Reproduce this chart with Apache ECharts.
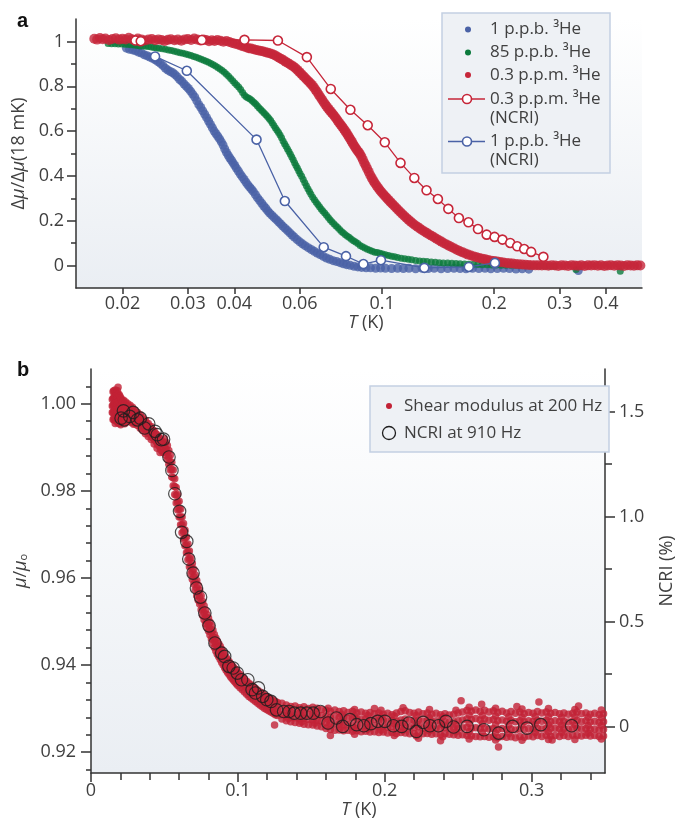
<!DOCTYPE html>
<html><head><meta charset="utf-8">
<script src="https://cdn.jsdelivr.net/npm/echarts@6/dist/echarts.min.js"></script>
<style>html,body{margin:0;padding:0;background:#fff}#c{width:684px;height:821px}</style>
</head><body><div id="c"></div>
<script>
// ---------- Panel a data: [T (K), Δμ/Δμ(18 mK)] ----------
const aBlue = [[0.0205,0.970],[0.0209,0.965],[0.0213,0.962],[0.0217,0.958],[0.0221,0.952],[0.0225,0.948],[0.0229,0.940],[0.0233,0.936],[0.0237,0.930],[0.0241,0.925],[0.0245,0.918],[0.0249,0.910],[0.0253,0.902],[0.0257,0.892],[0.0261,0.880],[0.0265,0.872],[0.0269,0.866],[0.0273,0.860],[0.0277,0.852],[0.0281,0.842],[0.0285,0.830],[0.0289,0.822],[0.0293,0.810],[0.0297,0.800],[0.0301,0.790],[0.0305,0.778],[0.0309,0.765],[0.0313,0.752],[0.0317,0.735],[0.0321,0.718],[0.0325,0.705],[0.0329,0.690],[0.0333,0.675],[0.0337,0.660],[0.0341,0.645],[0.0345,0.630],[0.0349,0.615],[0.0353,0.600],[0.0357,0.588],[0.0361,0.577],[0.0365,0.565],[0.0369,0.552],[0.0373,0.538],[0.0377,0.520],[0.0381,0.505],[0.0385,0.492],[0.0389,0.480],[0.0393,0.470],[0.0397,0.458],[0.0401,0.447],[0.0405,0.435],[0.0410,0.422],[0.0415,0.408],[0.0420,0.396],[0.0425,0.384],[0.0430,0.372],[0.0435,0.360],[0.0440,0.350],[0.0445,0.340],[0.0450,0.330],[0.0456,0.316],[0.0462,0.302],[0.0468,0.290],[0.0474,0.278],[0.0480,0.266],[0.0486,0.256],[0.0492,0.244],[0.0498,0.234],[0.0505,0.224],[0.0512,0.214],[0.0519,0.205],[0.0526,0.195],[0.0533,0.186],[0.0540,0.176],[0.0548,0.166],[0.0556,0.156],[0.0564,0.146],[0.0572,0.136],[0.0580,0.127],[0.0590,0.116],[0.0600,0.106],[0.0610,0.097],[0.0620,0.089],[0.0632,0.080],[0.0644,0.072],[0.0656,0.064],[0.0668,0.056],[0.0680,0.049],[0.0694,0.041],[0.0708,0.034],[0.0722,0.028],[0.0738,0.022],[0.0754,0.018],[0.0770,0.013],[0.0786,0.008],[0.0802,0.004],[0.0820,0.001],[0.0840,-0.003],[0.0860,-0.006],[0.0880,-0.008],[0.0905,-0.010],[0.0930,-0.010],[0.0960,-0.012],[0.099,-0.011],[0.102,-0.012],[0.106,-0.013],[0.110,-0.012],[0.114,-0.013],[0.118,-0.012],[0.123,-0.014],[0.128,-0.012],[0.133,-0.013],[0.138,-0.012],[0.144,-0.014],[0.150,-0.013],[0.156,-0.012],[0.162,-0.013],[0.168,-0.014],[0.175,-0.012],[0.182,-0.013],[0.189,-0.012],[0.196,-0.014],[0.204,-0.013],[0.212,-0.012],[0.220,-0.013],[0.229,-0.015],[0.238,-0.014],[0.248,-0.016],[0.337,-0.022]];

const aGreen = [[0.0183,0.991],[0.0187,0.990],[0.0191,0.990],[0.0195,0.988],[0.0199,0.988],[0.0203,0.987],[0.0207,0.986],[0.0211,0.985],[0.0215,0.984],[0.0219,0.982],[0.0223,0.980],[0.0227,0.979],[0.0231,0.978],[0.0235,0.977],[0.0239,0.975],[0.0243,0.973],[0.0247,0.971],[0.0251,0.969],[0.0256,0.967],[0.0261,0.965],[0.0266,0.962],[0.0271,0.959],[0.0276,0.956],[0.0281,0.953],[0.0286,0.950],[0.0291,0.947],[0.0296,0.944],[0.0301,0.940],[0.0306,0.937],[0.0311,0.933],[0.0316,0.929],[0.0321,0.925],[0.0326,0.920],[0.0331,0.916],[0.0336,0.912],[0.0341,0.907],[0.0346,0.901],[0.0351,0.896],[0.0356,0.890],[0.0361,0.884],[0.0366,0.877],[0.0371,0.870],[0.0376,0.862],[0.0381,0.854],[0.0386,0.845],[0.0391,0.835],[0.0396,0.825],[0.0401,0.815],[0.0406,0.806],[0.0411,0.797],[0.0416,0.786],[0.0421,0.772],[0.0426,0.760],[0.0431,0.752],[0.0436,0.748],[0.0441,0.743],[0.0446,0.736],[0.0451,0.729],[0.0456,0.722],[0.0461,0.713],[0.0466,0.704],[0.0471,0.696],[0.0476,0.689],[0.0481,0.681],[0.0486,0.673],[0.0491,0.665],[0.0496,0.656],[0.0501,0.647],[0.0506,0.636],[0.0511,0.625],[0.0516,0.614],[0.0521,0.604],[0.0526,0.594],[0.0531,0.582],[0.0536,0.570],[0.0541,0.556],[0.0546,0.544],[0.0551,0.532],[0.0556,0.520],[0.0561,0.509],[0.0566,0.497],[0.0571,0.484],[0.0576,0.472],[0.0581,0.459],[0.0586,0.447],[0.0591,0.435],[0.0596,0.423],[0.0601,0.411],[0.0607,0.398],[0.0613,0.384],[0.0619,0.370],[0.0625,0.356],[0.0631,0.343],[0.0637,0.330],[0.0643,0.318],[0.0650,0.305],[0.0657,0.294],[0.0664,0.283],[0.0671,0.272],[0.0678,0.262],[0.0685,0.252],[0.0692,0.244],[0.0700,0.235],[0.0708,0.225],[0.0716,0.214],[0.0724,0.204],[0.0732,0.196],[0.0741,0.187],[0.0750,0.178],[0.0759,0.170],[0.0768,0.161],[0.0777,0.152],[0.0786,0.145],[0.0796,0.138],[0.0806,0.131],[0.0816,0.125],[0.0826,0.118],[0.0837,0.111],[0.0848,0.105],[0.0860,0.098],[0.0872,0.090],[0.0885,0.084],[0.0898,0.078],[0.0912,0.073],[0.0926,0.068],[0.0940,0.064],[0.0955,0.060],[0.0970,0.058],[0.0986,0.055],[0.1002,0.052],[0.1020,0.048],[0.1040,0.045],[0.1060,0.042],[0.1080,0.039],[0.1100,0.036],[0.1125,0.033],[0.1150,0.030],[0.1175,0.028],[0.1200,0.026],[0.1230,0.023],[0.1260,0.021],[0.1290,0.019],[0.1320,0.018],[0.1355,0.016],[0.1390,0.015],[0.1425,0.013],[0.1460,0.012],[0.1500,0.011],[0.1540,0.010],[0.1580,0.009],[0.1620,0.008],[0.1665,0.007],[0.1710,0.006],[0.1760,0.006],[0.1810,0.005],[0.1860,0.004],[0.1915,0.004],[0.1970,0.003],[0.2030,0.003],[0.2090,0.002],[0.2150,0.002],[0.2215,0.001],[0.2280,0.001],[0.2350,0.000],[0.2420,0.000],[0.2490,-0.001],[0.2570,-0.001],[0.2650,-0.002],[0.2730,-0.002],[0.2820,-0.003],[0.2910,-0.003],[0.3320,-0.018],[0.4370,-0.025]];

const aRed = [[0.0168,1.012],[0.0171,1.008],[0.0174,1.015],[0.0177,1.010],[0.0180,1.013],[0.0184,1.006],[0.0188,1.011],[0.0192,1.014],[0.0196,1.008],[0.0200,1.012],[0.0204,1.009],[0.0208,1.016],[0.0212,1.010],[0.0216,1.006],[0.0220,1.013],[0.0225,1.009],[0.0230,1.004],[0.0235,1.008],[0.0240,1.011],[0.0245,1.005],[0.0250,1.009],[0.0255,1.006],[0.0260,1.002],[0.0265,1.007],[0.0270,1.010],[0.0276,1.005],[0.0282,1.008],[0.0288,1.003],[0.0294,1.009],[0.0300,1.011],[0.0306,1.006],[0.0312,1.013],[0.0318,1.008],[0.0324,1.004],[0.0330,1.009],[0.0336,1.006],[0.0342,1.001],[0.0348,1.005],[0.0354,1.002],[0.0360,1.006],[0.0367,1.003],[0.0374,0.999],[0.0381,1.002],[0.0388,0.997],[0.0395,0.993],[0.0402,0.990],[0.0409,0.986],[0.0416,0.982],[0.0423,0.978],[0.0430,0.974],[0.0437,0.970],[0.0444,0.968],[0.0451,0.965],[0.0458,0.962],[0.0465,0.960],[0.0472,0.957],[0.0479,0.955],[0.0486,0.952],[0.0493,0.949],[0.0500,0.946],[0.0507,0.943],[0.0514,0.938],[0.0521,0.933],[0.0528,0.927],[0.0535,0.922],[0.0542,0.916],[0.0549,0.910],[0.0556,0.905],[0.0563,0.899],[0.0570,0.893],[0.0577,0.888],[0.0584,0.881],[0.0591,0.873],[0.0598,0.864],[0.0605,0.856],[0.0612,0.847],[0.0619,0.839],[0.0626,0.830],[0.0633,0.822],[0.0640,0.814],[0.0647,0.806],[0.0654,0.796],[0.0661,0.785],[0.0668,0.774],[0.0675,0.762],[0.0682,0.751],[0.0689,0.740],[0.0696,0.729],[0.0703,0.718],[0.0710,0.708],[0.0717,0.699],[0.0724,0.690],[0.0731,0.682],[0.0738,0.674],[0.0745,0.665],[0.0752,0.656],[0.0759,0.646],[0.0766,0.637],[0.0773,0.628],[0.0780,0.620],[0.0787,0.611],[0.0794,0.602],[0.0801,0.592],[0.0808,0.582],[0.0815,0.572],[0.0822,0.562],[0.0829,0.552],[0.0836,0.541],[0.0843,0.531],[0.0850,0.522],[0.0857,0.513],[0.0864,0.506],[0.0871,0.498],[0.0879,0.486],[0.0887,0.472],[0.0895,0.458],[0.0903,0.445],[0.0911,0.432],[0.0920,0.418],[0.0929,0.403],[0.0938,0.390],[0.0947,0.378],[0.0956,0.367],[0.0966,0.356],[0.0976,0.346],[0.0986,0.336],[0.0996,0.327],[0.1007,0.318],[0.1018,0.309],[0.1029,0.301],[0.1041,0.292],[0.1053,0.283],[0.1065,0.275],[0.1078,0.266],[0.1091,0.257],[0.1104,0.248],[0.1118,0.239],[0.1132,0.230],[0.1147,0.221],[0.1162,0.212],[0.1177,0.204],[0.1193,0.196],[0.1209,0.188],[0.1226,0.180],[0.1243,0.173],[0.1261,0.166],[0.1279,0.159],[0.1298,0.152],[0.1317,0.146],[0.1337,0.139],[0.1357,0.133],[0.1378,0.126],[0.1399,0.120],[0.1421,0.113],[0.1443,0.107],[0.1466,0.100],[0.1490,0.094],[0.1514,0.088],[0.1539,0.082],[0.1565,0.076],[0.1591,0.070],[0.1618,0.064],[0.1646,0.059],[0.1674,0.054],[0.1703,0.049],[0.1733,0.045],[0.1764,0.041],[0.1795,0.037],[0.1827,0.034],[0.1860,0.031],[0.1894,0.028],[0.1929,0.025],[0.1965,0.022],[0.2002,0.020],[0.2040,0.018],[0.2079,0.016],[0.2119,0.014],[0.2160,0.012],[0.2202,0.010],[0.2245,0.009],[0.2290,0.007],[0.2336,0.006],[0.2383,0.005],[0.2431,0.004],[0.2480,0.003],[0.2530,0.002],[0.2582,0.001],[0.2635,0.001],[0.2689,0.000],[0.2744,0.001],[0.2800,-0.001],[0.2858,0.002],[0.2917,0.000],[0.2977,-0.002],[0.3038,0.001],[0.3101,0.000],[0.3165,-0.002],[0.3230,0.002],[0.3297,0.000],[0.3365,-0.001],[0.3434,0.001],[0.3505,-0.002],[0.3577,0.001],[0.3651,0.000],[0.3726,0.002],[0.3803,-0.001],[0.3881,0.001],[0.3961,-0.002],[0.4042,0.000],[0.4125,0.002],[0.4210,-0.001],[0.4297,0.001],[0.4385,0.000],[0.4475,-0.002],[0.4567,0.002],[0.4661,0.000],[0.4757,-0.001],[0.4855,0.001],[0.4950,0.000]];

const aRedNCRI = [[0.02168,1.004],[0.0224,1.001],[0.0327,1.006],[0.0426,1.007],[0.0524,1.004],[0.0627,0.930],[0.0727,0.788],[0.0821,0.695],[0.0914,0.626],[0.1016,0.550],[0.112,0.458],[0.122,0.391],[0.1316,0.336],[0.1412,0.297],[0.1506,0.253],[0.1608,0.212],[0.1706,0.193],[0.181,0.163],[0.191,0.138],[0.2006,0.128],[0.2106,0.116],[0.221,0.101],[0.2308,0.086],[0.241,0.074],[0.2516,0.061],[0.2714,0.039]];
const aBlueNCRI = [[0.02448,0.933],[0.0298,0.869],[0.0459,0.562],[0.0547,0.288],[0.0696,0.082],[0.0799,0.042],[0.089,0.007],[0.0992,0.024],[0.1298,-0.010],[0.171,-0.006],[0.201,0.012]];

const aXTicks = [0.02,0.03,0.04,0.06,0.1,0.2,0.3,0.4];
const aXTickLabels = ['0.02','0.03','0.04','0.06','0.1','0.2','0.3','0.4'];
const aYTicks = [0,0.2,0.4,0.6,0.8,1];
const aYMinorTicks = [0.1,0.3,0.5,0.7,0.9];

// ---------- Panel b data ----------
// rows: [T (K), μ/μ0 values of the dots read at that T ...]
const shearRows = [
[0.0145,1.0010,0.9995,0.9980],[0.0150,1.0028,1.0012,0.9996,0.9980,0.9964],[0.0155,1.0030,1.0014,0.9998,0.9982,0.9966],[0.0160,1.0026,1.0010,0.9994,0.9978,0.9962],[0.0165,1.0032,1.0016,1.0000,0.9984,0.9968,0.9955],[0.0170,1.0028,1.0012,0.9996,0.9980,0.9964],[0.0175,1.0024,1.0008,0.9992,0.9976,0.9960],[0.0180,1.0030,1.0014,0.9998,0.9982,0.9966],[0.0184,1.0038,1.0020,1.0004,0.9988,0.9972,0.9956],[0.0190,1.0022,1.0006,0.9990,0.9974,0.9958],[0.0196,1.0018,1.0002,0.9986,0.9970,0.9955],[0.0202,1.0014,0.9998,0.9982,0.9966,0.9952],[0.0208,1.0010,0.9994,0.9978,0.9962],[0.0215,1.0006,0.9990,0.9974,0.9958],[0.0222,1.0008,0.9992,0.9976,0.9960],[0.0229,1.0000,0.9984,0.9968,0.9954],[0.0236,1.0004,0.9988,0.9972,0.9958],[0.0243,0.9996,0.9980,0.9964],[0.0250,1.0000,0.9984,0.9968],[0.0258,0.9993,0.9977,0.9961],[0.0266,0.9997,0.9980,0.9964],[0.0274,0.9988,0.9972,0.9957],[0.0282,0.9992,0.9975,0.9960],[0.0290,0.9984,0.9968,0.9953],[0.0299,0.9986,0.9970,0.9955],[0.0308,0.9978,0.9962],[0.0317,0.9980,0.9964,0.9950],[0.0326,0.9972,0.9956],[0.0335,0.9975,0.9958,0.9944],[0.0344,0.9966,0.9950],[0.0353,0.9968,0.9951,0.9938],[0.0362,0.9960,0.9943],[0.0371,0.9962,0.9945,0.9931],[0.0380,0.9954,0.9937],[0.0390,0.9955,0.9938,0.9925],[0.0400,0.9947,0.9930],[0.0410,0.9948,0.9930,0.9918],[0.0420,0.9940,0.9922],[0.0430,0.9938,0.9920,0.9908],[0.0440,0.9932,0.9915],[0.0450,0.9929,0.9910,0.9898],[0.0460,0.9925,0.9905],[0.0470,0.9920,0.9900,0.9888],[0.0480,0.9915,0.9893],[0.0490,0.9910,0.9888],
[0.050,0.9920,0.9905,0.9890],[0.051,0.9912,0.9897,0.9882],[0.052,0.9904,0.9888,0.9872],[0.053,0.9893,0.9877,0.9861],[0.054,0.9882,0.9865,0.9848],[0.055,0.9866,0.9849,0.9832],[0.056,0.9848,0.9830,0.9812],[0.057,0.9828,0.9810,0.9792],[0.058,0.9808,0.9790,0.9772],[0.059,0.9792,0.9774,0.9756],[0.060,0.9776,0.9758,0.9740],[0.061,0.9758,0.9740,0.9722],[0.062,0.9740,0.9722,0.9704],[0.063,0.9725,0.9707,0.9689],[0.064,0.9710,0.9692,0.9674],[0.065,0.9694,0.9676,0.9658],[0.066,0.9678,0.9660,0.9642],[0.067,0.9662,0.9644,0.9626],[0.068,0.9646,0.9628,0.9610],[0.069,0.9633,0.9615,0.9597],[0.070,0.9620,0.9603,0.9586],[0.071,0.9607,0.9590,0.9573],[0.072,0.9594,0.9577,0.9560],[0.073,0.9583,0.9566,0.9549],[0.074,0.9572,0.9556,0.9540],[0.075,0.9559,0.9543,0.9527],[0.076,0.9546,0.9530,0.9514],[0.077,0.9536,0.9520,0.9504],[0.078,0.9526,0.9510,0.9494],[0.079,0.9516,0.9501,0.9486],[0.080,0.9508,0.9493,0.9478],[0.081,0.9499,0.9484,0.9469],[0.082,0.9490,0.9475,0.9460],[0.083,0.9480,0.9465,0.9450],[0.084,0.9470,0.9455,0.9440],[0.085,0.9462,0.9447,0.9432],[0.086,0.9455,0.9440,0.9425],[0.087,0.9449,0.9434,0.9419],[0.088,0.9443,0.9428,0.9413],[0.089,0.9436,0.9421,0.9406],[0.090,0.9430,0.9415,0.9400],[0.091,0.9424,0.9409,0.9394],[0.092,0.9418,0.9403,0.9388],[0.093,0.9413,0.9398,0.9383],[0.094,0.9408,0.9393,0.9378],[0.095,0.9403,0.9388,0.9373],[0.096,0.9399,0.9384,0.9369],[0.097,0.9395,0.9380,0.9365],[0.098,0.9391,0.9376,0.9361],[0.099,0.9387,0.9372,0.9357],[0.100,0.9383,0.9368,0.9353],[0.1015,0.9378,0.9363,0.9348],[0.103,0.9373,0.9358,0.9343],[0.1045,0.9368,0.9353,0.9338],[0.106,0.9363,0.9348,0.9333],[0.1075,0.9358,0.9343,0.9328],[0.109,0.9354,0.9339,0.9324],[0.1105,0.9350,0.9335,0.9320],[0.112,0.9346,0.9331,0.9316],[0.1135,0.9342,0.9327,0.9312],[0.115,0.9338,0.9323,0.9308],[0.1165,0.9335,0.9320,0.9305],[0.118,0.9331,0.9316,0.9301],[0.1195,0.9328,0.9313,0.9298],[0.121,0.9325,0.9310,0.9295],[0.1225,0.9322,0.9307,0.9292],[0.124,0.9319,0.9304,0.9289],[0.1255,0.9316,0.9301,0.9286],[0.127,0.9314,0.9299,0.9284],
[0.1300,0.9312,0.9298,0.9286,0.9276],[0.1330,0.9308,0.9294,0.9283,0.9272],[0.1360,0.9305,0.9292,0.9280,0.9270],[0.1390,0.9306,0.9290,0.9279,0.9268],[0.1420,0.9302,0.9289,0.9276,0.9266],[0.1450,0.9304,0.9291,0.9278,0.9264],[0.1480,0.9300,0.9287,0.9275,0.9263],[0.1510,0.9303,0.9288,0.9274,0.9262],[0.1540,0.9301,0.9286,0.9272,0.9260],[0.1570,0.9298,0.9284,0.9271,0.9258],[0.1600,0.9296,0.9282,0.9268,0.9254],[0.1630,0.9294,0.9280,0.9266,0.9252],[0.1660,0.9297,0.9281,0.9265,0.9250],[0.1690,0.9293,0.9279,0.9264,0.9251],[0.1720,0.9295,0.9280,0.9263,0.9249],[0.1750,0.9291,0.9277,0.9262,0.9250],[0.1780,0.9294,0.9278,0.9261,0.9248],[0.1810,0.9290,0.9276,0.9262,0.9249],[0.1840,0.9292,0.9275,0.9260,0.9247],[0.1870,0.9289,0.9276,0.9261,0.9248],[0.1900,0.9291,0.9274,0.9259,0.9246],[0.1930,0.9288,0.9275,0.9260,0.9247],[0.1960,0.9290,0.9273,0.9258,0.9245],[0.1990,0.9287,0.9274,0.9259,0.9246],[0.2020,0.9289,0.9272,0.9257,0.9244],[0.2050,0.9286,0.9273,0.9258,0.9245],[0.2080,0.9290,0.9271,0.9256,0.9243],[0.2110,0.9293,0.9274,0.9258,0.9245],[0.2140,0.9295,0.9276,0.9259,0.9244],[0.2170,0.9291,0.9273,0.9257,0.9242],[0.2200,0.9289,0.9272,0.9256,0.9243],[0.2230,0.9292,0.9274,0.9258,0.9244],[0.2260,0.9288,0.9271,0.9255,0.9242],[0.2290,0.9290,0.9273,0.9257,0.9243],[0.2320,0.9287,0.9270,0.9254,0.9241],[0.2350,0.9289,0.9272,0.9256,0.9242],[0.2380,0.9286,0.9270,0.9255,0.9240],[0.2410,0.9288,0.9271,0.9256,0.9242],[0.2440,0.9285,0.9269,0.9254,0.9241],[0.2470,0.9287,0.9270,0.9255,0.9240],[0.2500,0.9290,0.9272,0.9254,0.9239],[0.2530,0.9292,0.9274,0.9256,0.9240],[0.2560,0.9296,0.9276,0.9257,0.9238],[0.2590,0.9294,0.9275,0.9255,0.9237],[0.2620,0.9297,0.9277,0.9256,0.9236],[0.2650,0.9293,0.9274,0.9254,0.9235],[0.2680,0.9296,0.9276,0.9255,0.9236],[0.2710,0.9292,0.9273,0.9253,0.9234],[0.2740,0.9295,0.9275,0.9254,0.9235],[0.2770,0.9291,0.9272,0.9252,0.9233],[0.2800,0.9294,0.9274,0.9254,0.9236],[0.2830,0.9290,0.9271,0.9252,0.9234],[0.2860,0.9293,0.9273,0.9253,0.9235],[0.2890,0.9289,0.9270,0.9251,0.9233],[0.2920,0.9292,0.9272,0.9253,0.9236],[0.2950,0.9288,0.9270,0.9252,0.9234],[0.2980,0.9291,0.9272,0.9254,0.9237],[0.3010,0.9289,0.9271,0.9253,0.9235],[0.3040,0.9293,0.9273,0.9255,0.9238],[0.3070,0.9290,0.9271,0.9253,0.9236],[0.3100,0.9292,0.9273,0.9255,0.9239],[0.3130,0.9289,0.9270,0.9254,0.9237],[0.3160,0.9291,0.9272,0.9255,0.9238],[0.3190,0.9288,0.9270,0.9253,0.9236],[0.3220,0.9290,0.9271,0.9254,0.9238],[0.3250,0.9287,0.9269,0.9252,0.9236],[0.3280,0.9289,0.9271,0.9254,0.9239],[0.3310,0.9292,0.9273,0.9255,0.9238],[0.3340,0.9288,0.9270,0.9253,0.9237],[0.3370,0.9290,0.9272,0.9254,0.9239],[0.3400,0.9287,0.9269,0.9252,0.9237],[0.3430,0.9289,0.9271,0.9253,0.9238],[0.3460,0.9286,0.9268,0.9251,0.9236],[0.3490,0.9288,0.9270,0.9252,0.9237],
[0.1345,0.9300,0.9288,0.9277],[0.1435,0.9296,0.9283,0.9270],[0.1525,0.9295,0.9281,0.9267],[0.1615,0.9301,0.9275,0.9259],[0.1705,0.9287,0.9272,0.9257],[0.1795,0.9298,0.9283,0.9255,0.9241],[0.1885,0.9284,0.9268,0.9253],[0.1975,0.9296,0.9281,0.9251],[0.2065,0.9283,0.9265,0.9238],[0.2125,0.9302,0.9266,0.9250],[0.2215,0.9284,0.9265,0.9237],[0.2305,0.9298,0.9279,0.9262,0.9249],[0.2395,0.9281,0.9263,0.9235],[0.2485,0.9296,0.9263,0.9247],[0.2575,0.9303,0.9285,0.9266,0.9247,0.9230],[0.2665,0.9284,0.9265,0.9245],[0.2755,0.9301,0.9283,0.9263,0.9244,0.9228],[0.2845,0.9281,0.9262,0.9243],[0.2935,0.9299,0.9280,0.9262,0.9227],[0.3025,0.9282,0.9264,0.9245],[0.3115,0.9300,0.9281,0.9263,0.9246,0.9229],[0.3205,0.9280,0.9262,0.9245],[0.3295,0.9298,0.9281,0.9263,0.9229],[0.3385,0.9280,0.9261,0.9244],[0.3475,0.9297,0.9279,0.9261,0.9230],
[0.2775,0.9212],[0.3050,0.9315],[0.2520,0.9318],[0.2230,0.9232],[0.1630,0.9238],[0.3140,0.9228],[0.2660,0.9310],[0.1250,0.9262],[0.2900,0.9305],[0.2380,0.9226],[0.3320,0.9306],[0.1930,0.9300]
];
// NCRI at 910 Hz: [T (K), NCRI (%)]
const ncri910 = [[0.0205,1.468],[0.0221,1.503],[0.0227,1.460],[0.0264,1.476],[0.0287,1.495],[0.0316,1.460],[0.0336,1.468],[0.0365,1.421],[0.0393,1.441],[0.0436,1.405],[0.0451,1.389],[0.0479,1.365],[0.0494,1.368],[0.0531,1.283],[0.0551,1.219],[0.0571,1.108],[0.0603,1.024],[0.0617,0.924],[0.0652,0.881],[0.0666,0.797],[0.0695,0.730],[0.0718,0.659],[0.0746,0.616],[0.0775,0.540],[0.0804,0.479],[0.0844,0.397],[0.0890,0.349],[0.0910,0.333],[0.0939,0.286],[0.0968,0.278],[0.0996,0.254],[0.1025,0.222],[0.1068,0.222],[0.1097,0.175],[0.1120,0.159],[0.1140,0.183],[0.1169,0.143],[0.1197,0.127],[0.1226,0.119],[0.1263,0.079],[0.1312,0.071],[0.1349,0.071],[0.1384,0.063],[0.1427,0.063],[0.1470,0.063],[0.1513,0.063],[0.1562,0.071],[0.1614,0.016],[0.1671,0.040],[0.1714,0.000],[0.1763,0.032],[0.1809,0.008],[0.1858,0.003],[0.1906,0.013],[0.1952,0.024],[0.2001,0.024],[0.2059,0.003],[0.2116,0.000],[0.2165,0.016],[0.2216,-0.024],[0.2262,0.019],[0.2308,0.003],[0.2366,0.003],[0.2417,0.024],[0.2469,-0.003],[0.2561,0.000],[0.2676,-0.016],[0.2776,-0.032],[0.2871,0.000],[0.2969,-0.008],[0.3063,0.008],[0.3273,0.003]];

const bXTicks = [0,0.1,0.2,0.3];
const bXMinorTicks = [0.02,0.04,0.06,0.08,0.12,0.14,0.16,0.18,0.22,0.24,0.26,0.28,0.32,0.34];
const bYTicks = [0.92,0.94,0.96,0.98,1.00];
const bYMinorTicks = [0.916,0.924,0.928,0.932,0.936,0.944,0.948,0.952,0.956,0.964,0.968,0.972,0.976,0.984,0.988,0.992,0.996,1.004];
const bY2Ticks = [0,0.5,1.0,1.5];
const bY2MinorTicks = [0.25,0.75,1.25];

// ---------- styling ----------
const FONT = 'Open Sans';
const TXT = '#404040';
const AX = '#333333';
const C_BLUE = '#4a62a6', C_GREEN = '#0b7a3c', C_RED = '#c62639', C_RED_B = '#c22236';
const bgGrad = {type:'linear', x:0, y:0, x2:0, y2:1, colorStops:[{offset:0,color:'#ffffff'},{offset:1,color:'#eaeef3'}]};
const lg = v => Math.log10(v);

const shearPts = [];
shearRows.forEach(r => { for (let i = 1; i < r.length; i++) shearPts.push([r[0], r[i]]); });

function axisLineSt(){ return {show:true, onZero:false, lineStyle:{color:AX, width:1.5}}; }
function tickSt(vals, len){ return {show:true, customValues:vals, length:len, lineStyle:{color:AX, width:1.5}}; }
const labSt = {fontSize:18, color:TXT, fontFamily:FONT};
const nameSt = {fontSize:18, color:TXT, fontFamily:FONT, rich:{i:{fontStyle:'italic', fontSize:18, color:TXT, fontFamily:FONT}, s:{fontSize:11, color:TXT, fontFamily:FONT, verticalAlign:'bottom'}}};

const chart = echarts.init(document.getElementById('c'), null, {renderer:'canvas'});
const option = {
  animation:false,
  backgroundColor:'#ffffff',
  textStyle:{fontFamily:FONT},
  grid:[
    {left:76, top:19, width:566, height:269, show:true, backgroundColor:bgGrad, borderWidth:0},
    {left:91, top:369, width:532, height:404, show:true, backgroundColor:bgGrad, borderWidth:0}
  ],
  xAxis:[
    {type:'value', gridIndex:0, min:lg(0.015), max:lg(0.5), axisLine:axisLineSt(),
     axisTick:tickSt(aXTicks.map(lg),6),
     axisLabel:Object.assign({customValues:aXTicks.map(lg), margin:7, formatter:function(v){
        let best=0, d=1e9; aXTicks.forEach((t,i)=>{const dd=Math.abs(lg(t)-v); if(dd<d){d=dd;best=i;}}); return aXTickLabels[best];}}, labSt),
     splitLine:{show:false},
     name:'{i|T} (K)', nameLocation:'middle', nameGap:26, nameTextStyle:Object.assign({padding:[0,0,0,14]}, nameSt)},
    {type:'value', gridIndex:1, min:0, max:0.35, axisLine:axisLineSt(),
     axisTick:tickSt(bXTicks,9),
     axisLabel:Object.assign({customValues:bXTicks, margin:9, formatter:v=>String(v)}, labSt),
     splitLine:{show:false},
     name:'{i|T} (K)', nameLocation:'middle', nameGap:28, nameTextStyle:Object.assign({padding:[0,0,0,22]}, nameSt)},
    {type:'value', gridIndex:1, min:0, max:0.35, position:'bottom', offset:0, axisLine:{show:false, onZero:false},
     axisTick:tickSt(bXMinorTicks,7), axisLabel:{show:false}, splitLine:{show:false}}
  ],
  yAxis:[
    {type:'value', gridIndex:0, min:-0.1, max:1.1, position:'left', axisLine:axisLineSt(),
     axisTick:tickSt(aYTicks,9),
     axisLabel:Object.assign({customValues:aYTicks, margin:12, formatter:v=>String(v)}, labSt),
     splitLine:{show:false},
     name:'Δ{i|μ}/Δ{i|μ}(18 mK)', nameLocation:'middle', nameGap:41, nameRotate:90, nameTextStyle:nameSt},
    {type:'value', gridIndex:0, min:-0.1, max:1.1, position:'left', offset:0, axisLine:{show:false, onZero:false},
     axisTick:tickSt(aYMinorTicks,5), axisLabel:{show:false}, splitLine:{show:false}},
    {type:'value', gridIndex:1, min:0.9152, max:1.008, position:'left', axisLine:axisLineSt(),
     axisTick:tickSt(bYTicks,10),
     axisLabel:Object.assign({customValues:bYTicks, margin:15, formatter:v=>v.toFixed(2)}, labSt),
     splitLine:{show:false},
     name:'{i|μ}/{i|μ}{s|o}', nameLocation:'middle', nameGap:56, nameRotate:90, nameTextStyle:nameSt},
    {type:'value', gridIndex:1, min:0.9152, max:1.008, position:'left', offset:0, axisLine:{show:false, onZero:false},
     axisTick:tickSt(bYMinorTicks,5), axisLabel:{show:false}, splitLine:{show:false}},
    {type:'value', gridIndex:1, min:-0.222, max:1.702, position:'right', axisLine:axisLineSt(),
     axisTick:tickSt(bY2Ticks,10),
     axisLabel:Object.assign({customValues:bY2Ticks, margin:14, formatter:v=> v===0?'0':v.toFixed(1)}, labSt),
     splitLine:{show:false},
     name:'NCRI (%)', nameLocation:'middle', nameGap:53, nameRotate:90, nameTextStyle:nameSt},
    {type:'value', gridIndex:1, min:-0.222, max:1.702, position:'right', offset:0, axisLine:{show:false, onZero:false},
     axisTick:tickSt(bY2MinorTicks,7), axisLabel:{show:false}, splitLine:{show:false}}
  ],
  series:[
    {name:'1 p.p.b. ³He', type:'scatter', xAxisIndex:0, yAxisIndex:0, data:aBlue.map(p=>[lg(p[0]),p[1]]), symbolSize:9, itemStyle:{color:C_BLUE}, silent:true},
    {name:'85 p.p.b. ³He', type:'scatter', xAxisIndex:0, yAxisIndex:0, data:aGreen.map(p=>[lg(p[0]),p[1]]), symbolSize:7, itemStyle:{color:C_GREEN}, silent:true},
    {name:'0.3 p.p.m. ³He', type:'scatter', xAxisIndex:0, yAxisIndex:0, data:aRed.map(p=>[lg(p[0]),p[1]]), symbolSize:10, itemStyle:{color:C_RED}, silent:true},
    {name:'0.3 p.p.m. ³He (NCRI)', type:'line', xAxisIndex:0, yAxisIndex:0, data:aRedNCRI.map(p=>[lg(p[0]),p[1]]), symbol:'circle', symbolSize:9, showSymbol:true,
     lineStyle:{color:C_RED, width:1.3}, itemStyle:{color:'#ffffff', borderColor:C_RED, borderWidth:1.6}, silent:true, z:5},
    {name:'1 p.p.b. ³He (NCRI)', type:'line', xAxisIndex:0, yAxisIndex:0, data:aBlueNCRI.map(p=>[lg(p[0]),p[1]]), symbol:'circle', symbolSize:9, showSymbol:true,
     lineStyle:{color:C_BLUE, width:1.3}, itemStyle:{color:'#ffffff', borderColor:C_BLUE, borderWidth:1.6}, silent:true, z:5},
    {name:'Shear modulus at 200 Hz', type:'scatter', xAxisIndex:1, yAxisIndex:2, data:shearPts, symbolSize:7.5, itemStyle:{color:C_RED_B}, silent:true},
    {name:'NCRI at 910 Hz', type:'scatter', xAxisIndex:1, yAxisIndex:4, data:ncri910, symbolSize:12.5, itemStyle:{color:'rgba(0,0,0,0)', borderColor:'#1e1e1e', borderWidth:1.2}, silent:true, z:5}
  ],
  graphic:[
    {type:'text', z:100, style:{text:'a', x:17, y:21, font:'bold 20px "Liberation Sans", Arial, sans-serif', fill:'#111', verticalAlign:'middle'}},
    {type:'text', z:100, style:{text:'b', x:17, y:370, font:'bold 20px "Liberation Sans", Arial, sans-serif', fill:'#111', verticalAlign:'middle'}},
    // legend a
    {type:'rect', z:100, shape:{x:442, y:13, width:168, height:160}, style:{fill:'#eef1f5', stroke:'#c4d0e2', lineWidth:1.5}},
    {type:'circle', z:101, shape:{cx:468, cy:29.5, r:3}, style:{fill:C_BLUE}},
    {type:'circle', z:101, shape:{cx:468, cy:52.5, r:3}, style:{fill:C_GREEN}},
    {type:'circle', z:101, shape:{cx:468, cy:75, r:3}, style:{fill:C_RED}},
    {type:'line', z:101, shape:{x1:448, y1:99, x2:485, y2:99}, style:{stroke:C_RED, lineWidth:1.4}},
    {type:'circle', z:102, shape:{cx:467, cy:99, r:4.5}, style:{fill:'#fff', stroke:C_RED, lineWidth:1.6}},
    {type:'line', z:101, shape:{x1:448, y1:141.5, x2:485, y2:141.5}, style:{stroke:C_BLUE, lineWidth:1.4}},
    {type:'circle', z:102, shape:{cx:467, cy:141.5, r:4.5}, style:{fill:'#fff', stroke:C_BLUE, lineWidth:1.6}},
    {type:'text', z:101, style:{text:'1 p.p.b. ³He', x:490, y:29.5, font:'17px "Open Sans"', fill:TXT, verticalAlign:'middle'}},
    {type:'text', z:101, style:{text:'85 p.p.b. ³He', x:490, y:52.5, font:'17px "Open Sans"', fill:TXT, verticalAlign:'middle'}},
    {type:'text', z:101, style:{text:'0.3 p.p.m. ³He', x:490, y:75, font:'17px "Open Sans"', fill:TXT, verticalAlign:'middle'}},
    {type:'text', z:101, style:{text:'0.3 p.p.m. ³He', x:490, y:99, font:'17px "Open Sans"', fill:TXT, verticalAlign:'middle'}},
    {type:'text', z:101, style:{text:'(NCRI)', x:490, y:118, font:'17px "Open Sans"', fill:TXT, verticalAlign:'middle'}},
    {type:'text', z:101, style:{text:'1 p.p.b. ³He', x:490, y:141.5, font:'17px "Open Sans"', fill:TXT, verticalAlign:'middle'}},
    {type:'text', z:101, style:{text:'(NCRI)', x:490, y:160, font:'17px "Open Sans"', fill:TXT, verticalAlign:'middle'}},
    // legend b
    {type:'rect', z:100, shape:{x:370, y:386, width:239, height:66}, style:{fill:'#eef1f5', stroke:'#c4d0e2', lineWidth:1.5}},
    {type:'circle', z:101, shape:{cx:389, cy:406, r:3}, style:{fill:C_RED_B}},
    {type:'circle', z:101, shape:{cx:389, cy:433, r:6.5}, style:{fill:'none', stroke:'#1e1e1e', lineWidth:1.3}},
    {type:'text', z:101, style:{text:'Shear modulus at 200 Hz', x:404, y:406, font:'17px "Open Sans"', fill:TXT, verticalAlign:'middle'}},
    {type:'text', z:101, style:{text:'NCRI at 910 Hz', x:404, y:433, font:'17px "Open Sans"', fill:TXT, verticalAlign:'middle'}}
  ]
};
chart.setOption(option);
</script>
</body></html>
